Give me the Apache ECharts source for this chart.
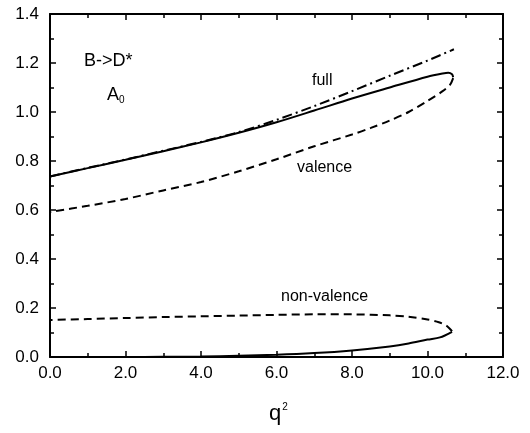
<!DOCTYPE html>
<html><head><meta charset="utf-8">
<script src="https://cdn.jsdelivr.net/npm/echarts@6/dist/echarts.min.js"></script>
<style>html,body{margin:0;padding:0;background:#fff}#c{width:530px;height:433px}</style>
</head><body><div id="c"></div>
<script>
// ---- data ----
var xTicks = ['0.0','2.0','4.0','6.0','8.0','10.0','12.0'];
var yTicks = ['0.0','0.2','0.4','0.6','0.8','1.0','1.2','1.4'];

var fullQ2 = [0,1,2,3,4,5,6,7,8,9,10,10.4,10.55,10.65,10.68];
var fullA0 = [0.737,0.771,0.805,0.840,0.876,0.915,0.958,1.006,1.055,1.100,1.144,1.157,1.160,1.154,1.142];

var valQ2 = [10.68,10.6,10.4,10.0,9.5,9,8.5,8,7,6,5,4,3,2,1,0];
var valA0 = [1.138,1.112,1.085,1.045,1.000,0.965,0.935,0.908,0.860,0.807,0.758,0.714,0.680,0.645,0.617,0.592];

var altQ2 = [0,1,2,3,4,5,6,7,8,9,10,10.7];
var altA0 = [0.737,0.772,0.806,0.842,0.878,0.918,0.968,1.024,1.085,1.148,1.210,1.256];

var nvSolidQ2 = [0,2,3,4,5,6,7,8,9,9.5,10,10.33,10.65];
var nvSolidA0 = [0.0,0.0,0.001,0.002,0.005,0.009,0.016,0.027,0.043,0.055,0.071,0.080,0.103];

var nvDashQ2 = [10.65,10.5,10.3,10,9.5,9,8,7,6,5,4,3,2,1,0];
var nvDashA0 = [0.105,0.128,0.142,0.153,0.164,0.170,0.174,0.174,0.172,0.169,0.166,0.163,0.159,0.155,0.151];

function pairs(xs, ys){ return xs.map(function(x,i){ return [x, ys[i]]; }); }

var chart = echarts.init(document.getElementById('c'));
var font = 'Liberation Sans, Arial, sans-serif';
var axLine = {show:true, onZero:false, lineStyle:{color:'#000', width:2}};
function xAx(pos, labels){
  return {type:'value', position:pos, min:0, max:12, interval:2,
    axisLine:axLine, splitLine:{show:false},
    axisTick:{show:true, inside:true, length:6, lineStyle:{color:'#000', width:1.5}},
    minorTick:{show:true, splitNumber:2, length:4, lineStyle:{color:'#000', width:1.5}},
    axisLabel:{show:labels, color:'#000', fontFamily:font, fontSize:17, margin:8,
      formatter:function(v){ return xTicks[Math.round(v/2)]; }}};
}
function yAx(pos, labels){
  return {type:'value', position:pos, min:0, max:1.4, interval:0.2,
    axisLine:axLine, splitLine:{show:false},
    axisTick:{show:true, inside:true, length:6, lineStyle:{color:'#000', width:1.5}},
    minorTick:{show:true, splitNumber:2, length:4, lineStyle:{color:'#000', width:1.5}},
    axisLabel:{show:labels, color:'#000', fontFamily:font, fontSize:17, margin:11,
      formatter:function(v){ return yTicks[Math.round(v/0.2)]; }}};
}
function line(data, type, dash){
  return {type:'line', xAxisIndex:0, yAxisIndex:0, data:data, smooth:0.3, showSymbol:false, symbol:'none',
    silent:true, animation:false,
    lineStyle:{color:'#000', width:2, type: dash || type}};
}
chart.setOption({
  animation:false,
  grid:{left:50, right:27, top:14, bottom:76},
  xAxis:[xAx('bottom', true), xAx('top', false)],
  yAxis:[yAx('left', true), yAx('right', false)],
  series:[
    line(pairs(fullQ2, fullA0), 'solid'),
    line(pairs(valQ2, valA0), 'dashed', [8,5]),
    line(pairs(altQ2, altA0), 'dashed', [10,4,2,4]),
    line(pairs(nvSolidQ2, nvSolidA0), 'solid'),
    line(pairs(nvDashQ2, nvDashA0), 'dashed', [8,5])
  ],
  graphic:[
    {type:'text', left:84, top:52, style:{text:'B->D*', font:'18px '+font, fill:'#000'}},
    {type:'text', left:107, top:86, style:{text:'{a|A}{s|0}', rich:{a:{fontSize:18, fontFamily:font, fill:'#000'}, s:{fontSize:10, fontFamily:font, padding:[10,0,0,0]}}, fill:'#000'}},
    {type:'text', left:312, top:73, style:{text:'full', font:'16px '+font, fill:'#000'}},
    {type:'text', left:297, top:160, style:{text:'valence', font:'16px '+font, fill:'#000'}},
    {type:'text', left:281, top:289, style:{text:'non-valence', font:'16px '+font, fill:'#000'}},
    {type:'text', left:269, top:402, style:{text:'{a|q}{s|2}', rich:{a:{fontSize:22, fontFamily:font}, s:{fontSize:10, fontFamily:font, padding:[0,0,14,1]}}, fill:'#000'}}
  ]
});
</script></body></html>
